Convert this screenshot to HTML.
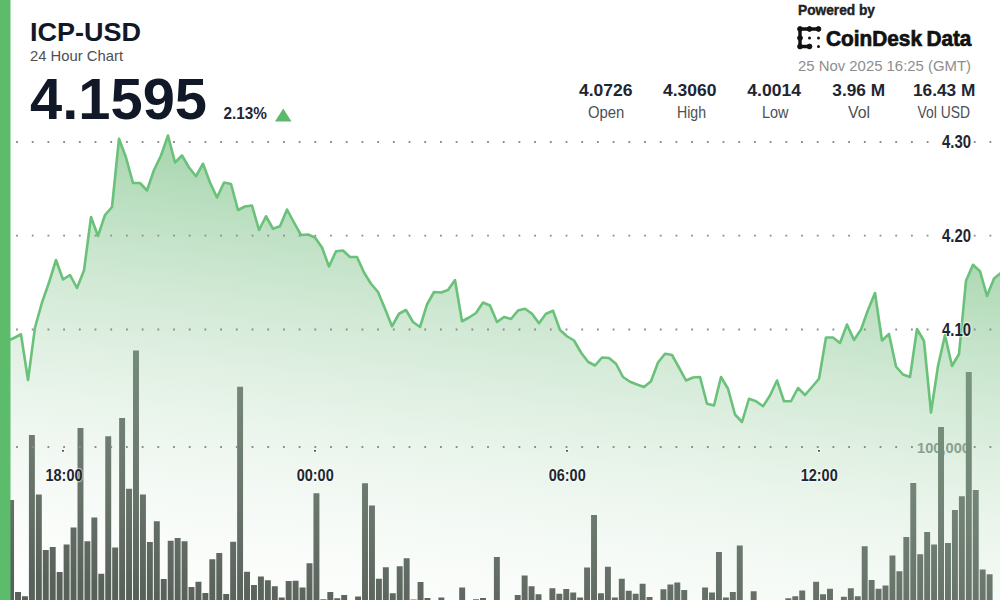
<!DOCTYPE html>
<html><head><meta charset="utf-8">
<style>
html,body{margin:0;padding:0;background:#fff;}
body{width:1000px;height:600px;overflow:hidden;position:relative;font-family:"Liberation Sans",sans-serif;}
svg{position:absolute;left:0;top:0;}
text{font-family:"Liberation Sans",sans-serif;}
</style></head><body>
<svg width="1000" height="600" viewBox="0 0 1000 600">
<defs>
<linearGradient id="g" x1="500" y1="110.1" x2="432.1" y2="632" gradientUnits="userSpaceOnUse">
<stop offset="0" stop-color="rgb(114,189,126)" stop-opacity="0.805"/>
<stop offset="1" stop-color="rgb(234,243,235)" stop-opacity="0.094"/>
</linearGradient>
</defs>
<text x="917" y="452.5" font-size="15" font-weight="bold" fill="#6a756c" textLength="53" lengthAdjust="spacingAndGlyphs">100,000</text>
<g fill="#48514a">
<rect x="8.10" y="500.00" width="5.94" height="100.00"/>
<rect x="15.04" y="592.00" width="5.94" height="8.00"/>
<rect x="21.98" y="596.25" width="5.94" height="3.75"/>
<rect x="28.92" y="435.00" width="5.94" height="165.00"/>
<rect x="35.86" y="494.50" width="5.94" height="105.50"/>
<rect x="42.80" y="550.00" width="5.94" height="50.00"/>
<rect x="49.74" y="547.00" width="5.94" height="53.00"/>
<rect x="56.68" y="572.00" width="5.94" height="28.00"/>
<rect x="63.62" y="544.50" width="5.94" height="55.50"/>
<rect x="70.56" y="527.50" width="5.94" height="72.50"/>
<rect x="77.50" y="428.00" width="5.94" height="172.00"/>
<rect x="84.44" y="541.25" width="5.94" height="58.75"/>
<rect x="91.38" y="517.50" width="5.94" height="82.50"/>
<rect x="98.32" y="573.75" width="5.94" height="26.25"/>
<rect x="105.26" y="436.25" width="5.94" height="163.75"/>
<rect x="112.20" y="547.50" width="5.94" height="52.50"/>
<rect x="119.14" y="418.00" width="5.94" height="182.00"/>
<rect x="126.08" y="488.75" width="5.94" height="111.25"/>
<rect x="133.02" y="350.50" width="5.94" height="249.50"/>
<rect x="139.96" y="494.50" width="5.94" height="105.50"/>
<rect x="146.90" y="542.00" width="5.94" height="58.00"/>
<rect x="153.84" y="521.25" width="5.94" height="78.75"/>
<rect x="160.78" y="579.00" width="5.94" height="21.00"/>
<rect x="167.72" y="540.75" width="5.94" height="59.25"/>
<rect x="174.66" y="538.00" width="5.94" height="62.00"/>
<rect x="181.60" y="541.25" width="5.94" height="58.75"/>
<rect x="188.54" y="587.00" width="5.94" height="13.00"/>
<rect x="195.48" y="581.75" width="5.94" height="18.25"/>
<rect x="202.42" y="593.00" width="5.94" height="7.00"/>
<rect x="209.36" y="559.25" width="5.94" height="40.75"/>
<rect x="216.30" y="553.00" width="5.94" height="47.00"/>
<rect x="223.24" y="594.00" width="5.94" height="6.00"/>
<rect x="230.18" y="541.75" width="5.94" height="58.25"/>
<rect x="237.12" y="386.75" width="5.94" height="213.25"/>
<rect x="244.06" y="571.75" width="5.94" height="28.25"/>
<rect x="251.00" y="585.00" width="5.94" height="15.00"/>
<rect x="257.94" y="576.50" width="5.94" height="23.50"/>
<rect x="264.88" y="580.25" width="5.94" height="19.75"/>
<rect x="271.82" y="586.25" width="5.94" height="13.75"/>
<rect x="278.76" y="597.50" width="5.94" height="2.50"/>
<rect x="285.70" y="581.00" width="5.94" height="19.00"/>
<rect x="292.64" y="580.75" width="5.94" height="19.25"/>
<rect x="299.58" y="587.50" width="5.94" height="12.50"/>
<rect x="306.52" y="563.25" width="5.94" height="36.75"/>
<rect x="313.46" y="493.25" width="5.94" height="106.75"/>
<rect x="320.40" y="599.25" width="5.94" height="0.75"/>
<rect x="327.34" y="592.00" width="5.94" height="8.00"/>
<rect x="334.28" y="598.25" width="5.94" height="1.75"/>
<rect x="341.22" y="595.00" width="5.94" height="5.00"/>
<rect x="355.10" y="596.50" width="5.94" height="3.50"/>
<rect x="362.04" y="483.25" width="5.94" height="116.75"/>
<rect x="368.98" y="505.50" width="5.94" height="94.50"/>
<rect x="375.92" y="578.75" width="5.94" height="21.25"/>
<rect x="382.86" y="567.25" width="5.94" height="32.75"/>
<rect x="389.80" y="593.25" width="5.94" height="6.75"/>
<rect x="396.74" y="566.25" width="5.94" height="33.75"/>
<rect x="403.68" y="558.25" width="5.94" height="41.75"/>
<rect x="410.62" y="599.50" width="5.94" height="0.50"/>
<rect x="417.56" y="582.00" width="5.94" height="18.00"/>
<rect x="424.50" y="598.00" width="5.94" height="2.00"/>
<rect x="438.38" y="597.50" width="5.94" height="2.50"/>
<rect x="459.20" y="587.50" width="5.94" height="12.50"/>
<rect x="473.08" y="599.25" width="5.94" height="0.75"/>
<rect x="480.02" y="598.00" width="5.94" height="2.00"/>
<rect x="493.90" y="557.00" width="5.94" height="43.00"/>
<rect x="514.72" y="595.00" width="5.94" height="5.00"/>
<rect x="521.66" y="575.50" width="5.94" height="24.50"/>
<rect x="528.60" y="586.25" width="5.94" height="13.75"/>
<rect x="535.54" y="594.25" width="5.94" height="5.75"/>
<rect x="549.42" y="588.25" width="5.94" height="11.75"/>
<rect x="556.36" y="593.75" width="5.94" height="6.25"/>
<rect x="563.30" y="589.00" width="5.94" height="11.00"/>
<rect x="570.24" y="592.50" width="5.94" height="7.50"/>
<rect x="577.18" y="597.50" width="5.94" height="2.50"/>
<rect x="584.12" y="567.50" width="5.94" height="32.50"/>
<rect x="591.06" y="515.00" width="5.94" height="85.00"/>
<rect x="598.00" y="593.25" width="5.94" height="6.75"/>
<rect x="604.94" y="566.75" width="5.94" height="33.25"/>
<rect x="611.88" y="597.50" width="5.94" height="2.50"/>
<rect x="618.82" y="578.75" width="5.94" height="21.25"/>
<rect x="625.76" y="590.75" width="5.94" height="9.25"/>
<rect x="632.70" y="593.75" width="5.94" height="6.25"/>
<rect x="639.64" y="583.75" width="5.94" height="16.25"/>
<rect x="646.58" y="597.00" width="5.94" height="3.00"/>
<rect x="660.46" y="589.25" width="5.94" height="10.75"/>
<rect x="667.40" y="584.50" width="5.94" height="15.50"/>
<rect x="674.34" y="582.50" width="5.94" height="17.50"/>
<rect x="681.28" y="590.00" width="5.94" height="10.00"/>
<rect x="702.10" y="587.50" width="5.94" height="12.50"/>
<rect x="709.04" y="592.50" width="5.94" height="7.50"/>
<rect x="715.98" y="552.00" width="5.94" height="48.00"/>
<rect x="722.92" y="597.50" width="5.94" height="2.50"/>
<rect x="729.86" y="592.00" width="5.94" height="8.00"/>
<rect x="736.80" y="545.50" width="5.94" height="54.50"/>
<rect x="750.68" y="591.25" width="5.94" height="8.75"/>
<rect x="785.38" y="598.25" width="5.94" height="1.75"/>
<rect x="792.32" y="596.25" width="5.94" height="3.75"/>
<rect x="799.26" y="590.50" width="5.94" height="9.50"/>
<rect x="813.14" y="581.75" width="5.94" height="18.25"/>
<rect x="820.08" y="594.25" width="5.94" height="5.75"/>
<rect x="827.02" y="588.75" width="5.94" height="11.25"/>
<rect x="840.90" y="596.75" width="5.94" height="3.25"/>
<rect x="847.84" y="588.25" width="5.94" height="11.75"/>
<rect x="854.78" y="596.25" width="5.94" height="3.75"/>
<rect x="861.72" y="546.25" width="5.94" height="53.75"/>
<rect x="868.66" y="580.00" width="5.94" height="20.00"/>
<rect x="875.60" y="588.75" width="5.94" height="11.25"/>
<rect x="882.54" y="585.50" width="5.94" height="14.50"/>
<rect x="889.48" y="555.50" width="5.94" height="44.50"/>
<rect x="896.42" y="571.25" width="5.94" height="28.75"/>
<rect x="903.36" y="537.00" width="5.94" height="63.00"/>
<rect x="910.30" y="483.00" width="5.94" height="117.00"/>
<rect x="917.24" y="554.25" width="5.94" height="45.75"/>
<rect x="924.18" y="532.00" width="5.94" height="68.00"/>
<rect x="931.12" y="544.50" width="5.94" height="55.50"/>
<rect x="938.06" y="427.00" width="5.94" height="173.00"/>
<rect x="945.00" y="543.00" width="5.94" height="57.00"/>
<rect x="951.94" y="510.00" width="5.94" height="90.00"/>
<rect x="958.88" y="496.25" width="5.94" height="103.75"/>
<rect x="965.82" y="372.00" width="5.94" height="228.00"/>
<rect x="972.76" y="490.00" width="5.94" height="110.00"/>
<rect x="979.70" y="569.50" width="5.94" height="30.50"/>
<rect x="986.64" y="574.25" width="5.94" height="25.75"/>
</g>
<path d="M0,340 L0.00,340.00 L7.00,341.00 L14.00,338.00 L21.00,334.25 L28.00,380.00 L35.00,327.50 L42.00,302.50 L49.00,282.50 L56.00,260.00 L63.00,279.50 L70.00,275.00 L77.00,288.00 L84.00,270.50 L91.00,217.00 L98.00,236.00 L105.00,215.00 L112.00,207.00 L119.00,138.75 L126.00,157.50 L133.00,183.00 L140.00,183.00 L147.00,190.50 L154.00,170.00 L161.00,155.50 L168.00,135.50 L175.00,162.50 L182.00,155.50 L189.00,167.50 L196.00,176.25 L203.00,163.75 L210.00,182.50 L217.00,197.50 L224.00,182.50 L231.00,184.00 L238.00,210.00 L245.00,206.50 L252.00,205.50 L259.00,230.00 L266.00,216.25 L273.00,228.75 L280.00,226.25 L287.00,209.50 L294.00,222.50 L301.00,235.00 L308.00,234.50 L315.00,237.50 L322.00,247.50 L329.00,266.50 L336.00,251.25 L343.00,250.50 L350.00,257.00 L357.00,257.00 L364.00,272.50 L371.00,283.75 L378.00,292.00 L385.00,308.75 L392.00,326.25 L399.00,313.75 L406.00,310.00 L413.00,322.00 L420.00,327.00 L427.00,304.50 L434.00,292.00 L441.00,292.50 L448.00,290.00 L455.00,280.00 L462.00,321.25 L469.00,317.50 L476.00,313.00 L483.00,302.50 L490.00,305.50 L497.00,322.00 L504.00,317.00 L511.00,319.00 L518.00,310.50 L525.00,308.75 L532.00,313.75 L539.00,323.25 L546.00,313.75 L553.00,310.75 L560.00,330.00 L567.00,336.25 L574.00,340.50 L581.00,352.50 L588.00,361.75 L595.00,365.50 L602.00,357.50 L609.00,358.00 L616.00,363.75 L623.00,377.00 L630.00,381.75 L637.00,384.50 L644.00,387.00 L651.00,381.25 L658.00,362.50 L665.00,353.75 L672.00,355.00 L679.00,367.50 L686.00,380.50 L693.00,377.50 L700.00,377.00 L707.00,403.75 L714.00,405.50 L721.00,377.00 L728.00,388.75 L735.00,414.50 L742.00,422.00 L749.00,398.75 L756.00,401.25 L763.00,406.25 L770.00,395.50 L777.00,380.50 L784.00,401.25 L791.00,401.25 L798.00,388.00 L805.00,395.00 L812.00,387.00 L819.00,378.75 L826.00,337.50 L833.00,337.50 L840.00,343.00 L847.00,324.50 L854.00,340.00 L861.00,329.50 L868.00,310.00 L875.00,293.00 L882.00,340.50 L889.00,334.00 L896.00,366.50 L903.00,374.50 L910.00,377.00 L917.00,329.00 L924.00,341.00 L931.00,412.50 L938.00,366.00 L945.00,335.00 L952.00,366.00 L959.00,354.00 L966.00,280.80 L973.00,264.80 L980.00,271.20 L987.00,296.00 L994.00,278.40 L1001.00,272.80 L1001,600 L0,600 Z" fill="url(#g)" stroke="none"/>
<g stroke="#8c8c8c" stroke-width="1.8" stroke-dasharray="1.8 13.9" fill="none">
<line x1="16.1" y1="142" x2="935" y2="142"/>
<line x1="973.8" y1="142" x2="1000" y2="142"/>
<line x1="16.1" y1="235.7" x2="935" y2="235.7"/>
<line x1="973.8" y1="235.7" x2="1000" y2="235.7"/>
<line x1="16.1" y1="329.5" x2="935" y2="329.5"/>
<line x1="973.8" y1="329.5" x2="1000" y2="329.5"/>
<line x1="16.1" y1="447" x2="914" y2="447"/>
<line x1="973.8" y1="447" x2="1000" y2="447"/>
</g>
<polyline points="0.00,340.00 7.00,341.00 14.00,338.00 21.00,334.25 28.00,380.00 35.00,327.50 42.00,302.50 49.00,282.50 56.00,260.00 63.00,279.50 70.00,275.00 77.00,288.00 84.00,270.50 91.00,217.00 98.00,236.00 105.00,215.00 112.00,207.00 119.00,138.75 126.00,157.50 133.00,183.00 140.00,183.00 147.00,190.50 154.00,170.00 161.00,155.50 168.00,135.50 175.00,162.50 182.00,155.50 189.00,167.50 196.00,176.25 203.00,163.75 210.00,182.50 217.00,197.50 224.00,182.50 231.00,184.00 238.00,210.00 245.00,206.50 252.00,205.50 259.00,230.00 266.00,216.25 273.00,228.75 280.00,226.25 287.00,209.50 294.00,222.50 301.00,235.00 308.00,234.50 315.00,237.50 322.00,247.50 329.00,266.50 336.00,251.25 343.00,250.50 350.00,257.00 357.00,257.00 364.00,272.50 371.00,283.75 378.00,292.00 385.00,308.75 392.00,326.25 399.00,313.75 406.00,310.00 413.00,322.00 420.00,327.00 427.00,304.50 434.00,292.00 441.00,292.50 448.00,290.00 455.00,280.00 462.00,321.25 469.00,317.50 476.00,313.00 483.00,302.50 490.00,305.50 497.00,322.00 504.00,317.00 511.00,319.00 518.00,310.50 525.00,308.75 532.00,313.75 539.00,323.25 546.00,313.75 553.00,310.75 560.00,330.00 567.00,336.25 574.00,340.50 581.00,352.50 588.00,361.75 595.00,365.50 602.00,357.50 609.00,358.00 616.00,363.75 623.00,377.00 630.00,381.75 637.00,384.50 644.00,387.00 651.00,381.25 658.00,362.50 665.00,353.75 672.00,355.00 679.00,367.50 686.00,380.50 693.00,377.50 700.00,377.00 707.00,403.75 714.00,405.50 721.00,377.00 728.00,388.75 735.00,414.50 742.00,422.00 749.00,398.75 756.00,401.25 763.00,406.25 770.00,395.50 777.00,380.50 784.00,401.25 791.00,401.25 798.00,388.00 805.00,395.00 812.00,387.00 819.00,378.75 826.00,337.50 833.00,337.50 840.00,343.00 847.00,324.50 854.00,340.00 861.00,329.50 868.00,310.00 875.00,293.00 882.00,340.50 889.00,334.00 896.00,366.50 903.00,374.50 910.00,377.00 917.00,329.00 924.00,341.00 931.00,412.50 938.00,366.00 945.00,335.00 952.00,366.00 959.00,354.00 966.00,280.80 973.00,264.80 980.00,271.20 987.00,296.00 994.00,278.40 1001.00,272.80" fill="none" stroke="#6ac179" stroke-width="2.6" stroke-linejoin="round"/>
<!-- y labels -->
<g font-size="17.5" font-weight="bold" fill="#1e2633" stroke="#fff" stroke-width="2.5" stroke-opacity="0.5" paint-order="stroke" stroke-linejoin="round">
<text x="942" y="147.5" textLength="29" lengthAdjust="spacingAndGlyphs">4.30</text>
<text x="942" y="241.5" textLength="29" lengthAdjust="spacingAndGlyphs">4.20</text>
<text x="942" y="335.5" textLength="29" lengthAdjust="spacingAndGlyphs">4.10</text>
</g>
<!-- x labels -->
<g font-size="16.5" font-weight="bold" fill="#1e2633" stroke="#fff" stroke-width="2.5" stroke-opacity="0.5" paint-order="stroke" stroke-linejoin="round">
<rect x="62.2" y="450" width="1.6" height="1.6"/>
<rect x="314.2" y="450" width="1.6" height="1.6"/>
<rect x="566.2" y="450" width="1.6" height="1.6"/>
<rect x="818.2" y="450" width="1.6" height="1.6"/>
<text x="45.5" y="480.5" textLength="37" lengthAdjust="spacingAndGlyphs">18:00</text>
<text x="296.7" y="480.5" textLength="37" lengthAdjust="spacingAndGlyphs">00:00</text>
<text x="548.7" y="480.5" textLength="37" lengthAdjust="spacingAndGlyphs">06:00</text>
<text x="800.7" y="480.5" textLength="37" lengthAdjust="spacingAndGlyphs">12:00</text>
</g>
<rect x="0" y="0" width="10.5" height="600" fill="#5dbb6c"/>
<!-- header -->
<text x="30" y="41.3" font-size="26" font-weight="bold" fill="#111827" textLength="111" lengthAdjust="spacingAndGlyphs">ICP-USD</text>
<text x="30" y="60.5" font-size="15" fill="#4b5055" textLength="93" lengthAdjust="spacingAndGlyphs">24 Hour Chart</text>
<text x="30" y="118.8" font-size="57" font-weight="bold" fill="#111827" textLength="177" lengthAdjust="spacingAndGlyphs">4.1595</text>
<text x="223.5" y="119" font-size="16.5" font-weight="bold" fill="#1e2633" textLength="43.5" lengthAdjust="spacingAndGlyphs">2.13%</text>
<polygon points="283.2,108.5 291.5,121.5 275,121.5" fill="#5cb96a"/>
<!-- stats -->
<g font-size="17" font-weight="bold" fill="#1e2633">
<text x="579" y="96" textLength="53.5" lengthAdjust="spacingAndGlyphs">4.0726</text>
<text x="663" y="96" textLength="53.5" lengthAdjust="spacingAndGlyphs">4.3060</text>
<text x="747.3" y="96" textLength="53.7" lengthAdjust="spacingAndGlyphs">4.0014</text>
<text x="832.3" y="96" textLength="52.7" lengthAdjust="spacingAndGlyphs">3.96 M</text>
<text x="913" y="96" textLength="62.3" lengthAdjust="spacingAndGlyphs">16.43 M</text>
</g>
<g font-size="16.2" fill="#4b5055">
<text x="588" y="117.6" textLength="36.4" lengthAdjust="spacingAndGlyphs">Open</text>
<text x="677" y="117.6" textLength="29" lengthAdjust="spacingAndGlyphs">High</text>
<text x="762" y="117.6" textLength="26.5" lengthAdjust="spacingAndGlyphs">Low</text>
<text x="848" y="117.6" textLength="22" lengthAdjust="spacingAndGlyphs">Vol</text>
<text x="917.6" y="117.6" textLength="52.4" lengthAdjust="spacingAndGlyphs">Vol USD</text>
</g>
<text x="798" y="14.5" font-size="14" font-weight="bold" fill="#222" stroke="#222" stroke-width="0.4" textLength="77" lengthAdjust="spacingAndGlyphs">Powered by</text>
<g fill="#111" stroke="#111">
<path d="M800,29 L818.5,29 M800,29 L800,46.5 L809.5,46.5" stroke-width="3.4" fill="none"/>
<circle cx="800" cy="29" r="2.4"/><circle cx="809.5" cy="29" r="2.4"/><circle cx="818.5" cy="29" r="2.4"/>
<circle cx="800" cy="38" r="2.4"/><circle cx="800" cy="46.5" r="2.4"/><circle cx="809.5" cy="46.5" r="2.4"/>
<circle cx="809.5" cy="38" r="1.5" stroke="none"/><circle cx="818.5" cy="38" r="1.5" stroke="none"/><circle cx="818.5" cy="46.5" r="1.5" stroke="none"/>
</g>
<g font-size="21.5" font-weight="bold" fill="#111" stroke="#111" stroke-width="0.7">
<text x="826" y="45.7" textLength="96" lengthAdjust="spacingAndGlyphs">CoinDesk</text>
<text x="926.4" y="45.7" textLength="45" lengthAdjust="spacingAndGlyphs">Data</text>
</g>
<text x="798" y="71.4" font-size="15.5" fill="#8e8e8e" textLength="173" lengthAdjust="spacingAndGlyphs">25 Nov 2025 16:25 (GMT)</text>
</svg>
</body></html>
